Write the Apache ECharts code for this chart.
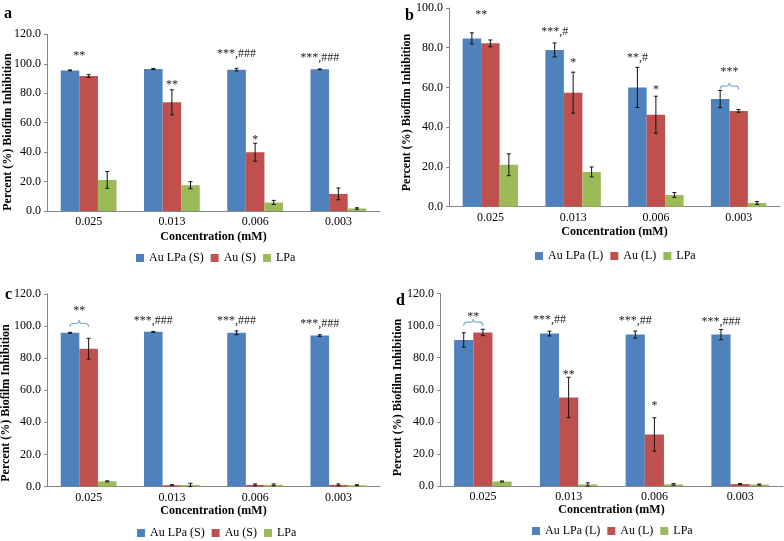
<!DOCTYPE html>
<html><head><meta charset="utf-8">
<script src="https://cdn.jsdelivr.net/npm/echarts@6/dist/echarts.min.js"></script>
<style>html,body{margin:0;padding:0;background:#fff}#c{width:784px;height:541px}</style>
</head><body><div id="c"></div>
<script>
// ---------- data ----------
const categories = ['0.025', '0.013', '0.006', '0.003'];
const namesS = ['Au LPa (S)', 'Au (S)', 'LPa'];
const namesL = ['Au LPa (L)', 'Au (L)', 'LPa'];

// panel a
const aAuLPa = [95.5, 96.4, 96.0, 96.2];
const aAuLPaErr = [0.3, 0.4, 0.9, 0.3];
const aAu = [91.7, 73.8, 39.9, 11.6];
const aAuErr = [0.9, 8.5, 6.1, 4.0];
const aLPa = [21.1, 17.5, 5.8, 1.7];
const aLPaErr = [5.7, 2.4, 1.4, 0.5];

// panel b
const bAuLPa = [84.7, 78.9, 60.0, 54.2];
const bAuLPaErr = [2.8, 3.5, 10.1, 4.3];
const bAu = [82.2, 57.4, 46.3, 48.2];
const bAuErr = [1.7, 10.3, 9.3, 0.7];
const bLPa = [21.1, 17.5, 5.9, 1.9];
const bLPaErr = [5.5, 2.5, 1.2, 0.7];

// panel c
const cAuLPa = [95.7, 96.3, 95.7, 94.0];
const cAuLPaErr = [0.3, 0.3, 1.2, 0.5];
const cAu = [85.8, 0.8, 1.0, 1.0];
const cAuErr = [6.5, 0.3, 0.6, 0.6];
const cLPa = [3.2, 1.0, 1.0, 0.8];
const cLPaErr = [0.3, 1.0, 0.6, 0.3];

// panel d
const dAuLPa = [91.0, 95.0, 94.4, 94.4];
const dAuLPaErr = [4.5, 1.5, 2.2, 3.2];
const dAu = [95.7, 55.2, 32.1, 1.2];
const dAuErr = [2.0, 12.6, 10.4, 0.3];
const dLPa = [2.8, 1.0, 1.0, 0.9];
const dLPaErr = [0.3, 1.0, 0.5, 0.3];

// y-axis tick ranges
const yMaxA = 120, yMaxB = 100, yMaxC = 120, yMaxD = 120;
const yStep = 20;

// significance notes: [category, bar slot, value-level, text]
const aNotes = [[0, 0.5, 105.3, '**'], [1, 1, 85.1, '**'], [2, 0, 107.3, '***,###'], [2, 1, 48.2, '*'], [3, 0, 104.6, '***,###']];
const bNotes = [[0, 0.5, 96.5, '**'], [1, 0, 88.6, '***,#'], [1, 1, 72.2, '*'], [2, 0, 75.5, '**,#'], [2, 1, 58.4, '*'], [3, 0.5, 67.6, '***']];
const cNotes = [[0, 0.5, 108.8, '**'], [1, 0, 103.7, '***,###'], [2, 0, 103.7, '***,###'], [3, 0, 102.2, '***,###']];
const dNotes = [[0, 0.5, 105.0, '**'], [1, 0, 104.4, '***,##'], [1, 1, 69.1, '**'], [2, 0, 103.8, '***,##'], [2, 1, 49.4, '*'], [3, 0, 102.7, '***,###']];
// braces: [category, value-level]
const bBraces = [[3, 60.7]];
const cBraces = [[0, 101.5]];
const dBraces = [[0, 102.1]];

// ---------- layout / style ----------
const COLORS = ['#4F81BD', '#C0504D', '#9BBB59'];
const FONT = 'Liberation Serif';
const GAP = 0.33;

const panels = [
  { grid: { left: 47, top: 34.3, width: 333, height: 176.7 }, max: yMaxA, names: namesS,
    vals: [aAuLPa, aAu, aLPa], errs: [aAuLPaErr, aAuErr, aLPaErr], notes: aNotes, braces: [],
    legend: { left: 136, top: 252 }, letter: ['a', 4, 6], ytitle: [8, 132], nameGap: 20 },
  { grid: { left: 449, top: 8, width: 331, height: 198.7 }, max: yMaxB, names: namesL,
    vals: [bAuLPa, bAu, bLPa], errs: [bAuLPaErr, bAuErr, bLPaErr], notes: bNotes, braces: bBraces,
    legend: { left: 535, top: 250 }, letter: ['b', 405, 8], ytitle: [407, 112.5], nameGap: 19 },
  { grid: { left: 47, top: 293.8, width: 333, height: 192.7 }, max: yMaxC, names: namesS,
    vals: [cAuLPa, cAu, cLPa], errs: [cAuLPaErr, cAuErr, cLPaErr], notes: cNotes, braces: cBraces,
    legend: { left: 137, top: 527 }, letter: ['c', 5, 287], ytitle: [6, 403], nameGap: 18 },
  { grid: { left: 440, top: 293.5, width: 343, height: 192.5 }, max: yMaxD, names: namesL,
    vals: [dAuLPa, dAu, dLPa], errs: [dAuLPaErr, dAuErr, dLPaErr], notes: dNotes, braces: dBraces,
    legend: { left: 532, top: 525 }, letter: ['d', 396, 293], ytitle: [398, 397.5], nameGap: 18 }
];

const grids = [], xAxes = [], yAxes = [], series = [], legends = [], graphics = [];

function slotX(api, c, slot) {
  const band = api.size([1, 0])[0];
  const bw = band * (1 - GAP) / 3;
  return api.coord([c, 0])[0] + (slot - 1) * bw;
}

panels.forEach((p, pi) => {
  grids.push(Object.assign({ containLabel: false }, p.grid));
  xAxes.push({
    type: 'category', gridIndex: pi, data: categories,
    axisLine: { lineStyle: { color: '#868686', width: 1 } },
    axisTick: { show: false },
    axisLabel: { color: '#000', fontFamily: FONT, fontSize: 12, margin: 5 },
    name: 'Concentration (mM)', nameLocation: 'middle', nameGap: p.nameGap,
    nameTextStyle: { color: '#000', fontFamily: FONT, fontSize: 12, fontWeight: 'bold' }
  });
  yAxes.push({
    type: 'value', gridIndex: pi, min: 0, max: p.max, interval: yStep,
    axisLine: { show: true, lineStyle: { color: '#868686', width: 1 } },
    axisTick: { show: true, length: 3, lineStyle: { color: '#868686' } },
    splitLine: { show: false },
    axisLabel: { color: '#000', fontFamily: FONT, fontSize: 12, margin: 6, formatter: v => v.toFixed(1) }
  });
  for (let s = 0; s < 3; s++) {
    series.push({
      type: 'bar', name: p.names[s], xAxisIndex: pi, yAxisIndex: pi, data: p.vals[s],
      barGap: '0%', barCategoryGap: (GAP * 100) + '%', itemStyle: { color: COLORS[s] }
    });
  }
  // error bars
  const errData = [];
  for (let s = 0; s < 3; s++) for (let c = 0; c < 4; c++) errData.push([c, p.vals[s][c], p.errs[s][c], s]);
  series.push({
    type: 'custom', name: 'err' + pi, xAxisIndex: pi, yAxisIndex: pi, coordinateSystem: 'cartesian2d',
    data: errData, z: 5, silent: true, clip: false,
    renderItem: (params, api) => {
      const c = api.value(0), v = api.value(1), e = api.value(2), s = api.value(3);
      const x = slotX(api, c, s);
      const yT = api.coord([c, v + e])[1], yB = api.coord([c, Math.max(v - e, 0)])[1];
      const st = { stroke: '#111', lineWidth: 1 };
      return { type: 'group', children: [
        { type: 'line', shape: { x1: x, y1: yT, x2: x, y2: yB }, style: st },
        { type: 'line', shape: { x1: x - 2, y1: yT, x2: x + 2, y2: yT }, style: st },
        { type: 'line', shape: { x1: x - 2, y1: yB, x2: x + 2, y2: yB }, style: st }
      ] };
    }
  });
  // notes
  const notes = p.notes;
  series.push({
    type: 'custom', name: 'note' + pi, xAxisIndex: pi, yAxisIndex: pi, coordinateSystem: 'cartesian2d',
    data: notes.map(n => [n[0], n[2]]), z: 6, silent: true, clip: false,
    renderItem: (params, api) => {
      const n = notes[params.dataIndex];
      const x = slotX(api, n[0], n[1]);
      const y = api.coord([n[0], n[2]])[1];
      const onlyStars = /^\*+$/.test(n[3]);
      return { type: 'text', x: x, y: y + (onlyStars ? -0.5 : 1),
        style: { text: n[3], align: 'center', verticalAlign: 'middle', fill: '#222',
          font: '12px "' + FONT + '"' } };
    }
  });
  // braces
  const braces = p.braces;
  if (braces.length) {
    series.push({
      type: 'custom', name: 'brace' + pi, xAxisIndex: pi, yAxisIndex: pi, coordinateSystem: 'cartesian2d',
      data: braces.map(b => [b[0], b[1]]), z: 6, silent: true, clip: false,
      renderItem: (params, api) => {
        const b = braces[params.dataIndex];
        const x0 = slotX(api, b[0], 0), x1 = slotX(api, b[0], 1);
        const ym = api.coord([b[0], b[1]])[1];
        const xc = (x0 + x1) / 2, r = 3, h = 3.5;
        const d = `M${x0},${ym + h} Q${x0},${ym} ${x0 + r},${ym} L${xc - r},${ym} Q${xc},${ym} ${xc},${ym - h}` +
          ` Q${xc},${ym} ${xc + r},${ym} L${x1 - r},${ym} Q${x1},${ym} ${x1},${ym + h}`;
        return { type: 'path', shape: { pathData: d }, style: { stroke: '#7FA7D8', lineWidth: 1.2, fill: null } };
      }
    });
  }
  legends.push({
    data: p.names, left: p.legend.left, top: p.legend.top, orient: 'horizontal', padding: 0,
    icon: 'rect', itemWidth: 8, itemHeight: 8, itemGap: 7, selectedMode: false,
    textStyle: { color: '#000', fontFamily: FONT, fontSize: 12 }
  });
  graphics.push({ type: 'text', x: p.letter[1], y: p.letter[2],
    style: { text: p.letter[0], font: 'bold 16px "' + FONT + '"', fill: '#000', align: 'left', verticalAlign: 'top' } });
  graphics.push({ type: 'text', x: p.ytitle[0], y: p.ytitle[1], rotation: Math.PI / 2,
    style: { text: 'Percent (%) Biofilm Inhibition', font: 'bold 12px "' + FONT + '"', fill: '#000',
      align: 'center', verticalAlign: 'middle' } });
});

const chart = echarts.init(document.getElementById('c'), null, { renderer: 'canvas' });
chart.setOption({
  animation: false,
  backgroundColor: '#fff',
  grid: grids, xAxis: xAxes, yAxis: yAxes, series: series, legend: legends, graphic: graphics
});
</script>
</body></html>
